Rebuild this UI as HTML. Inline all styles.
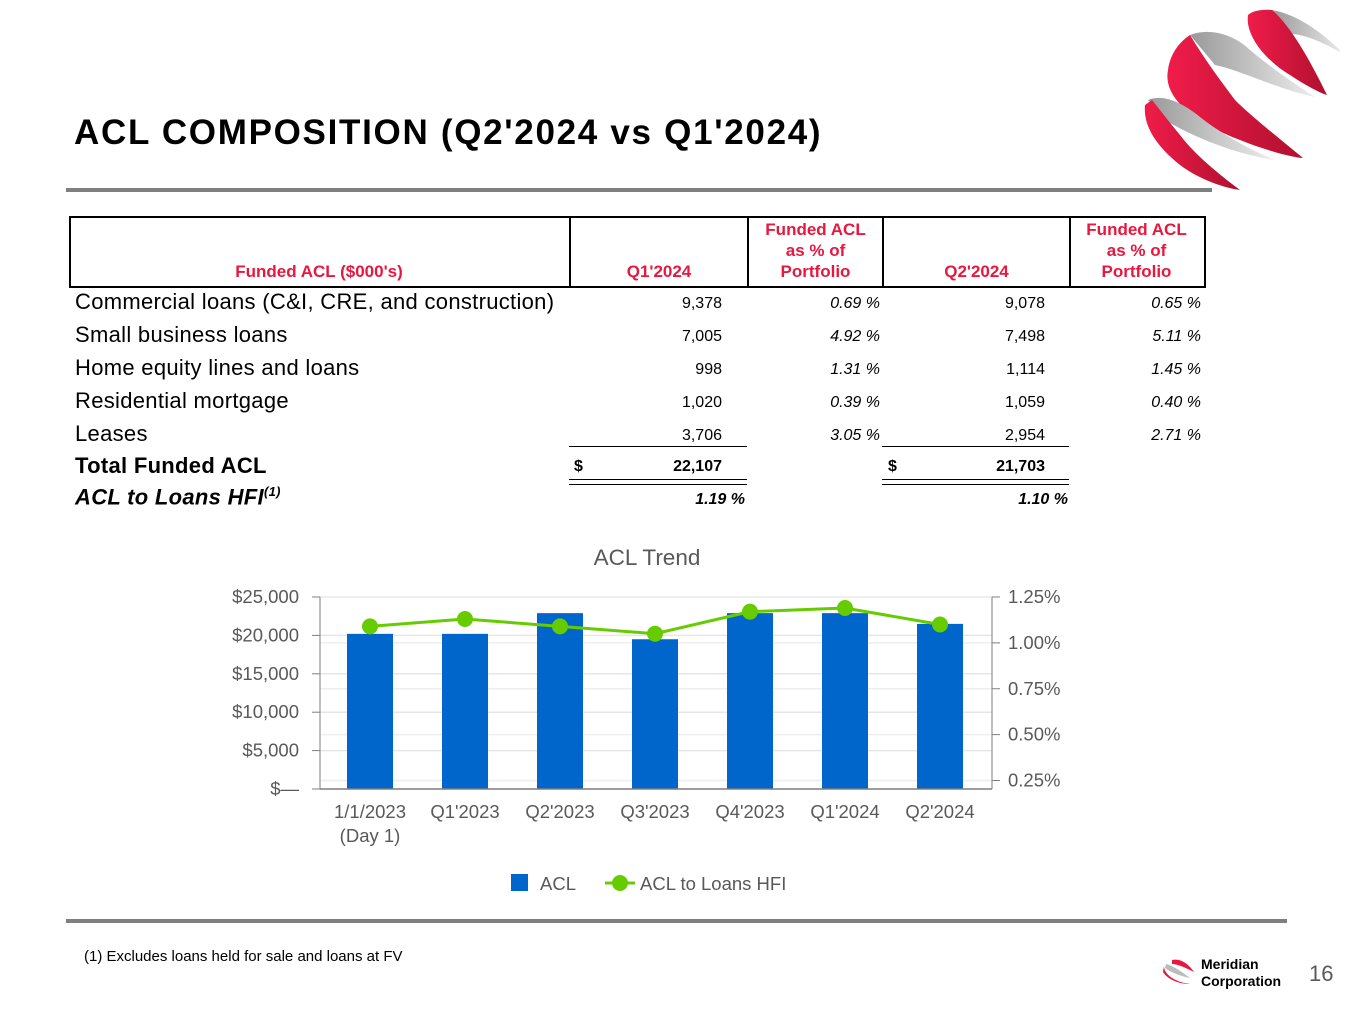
<!DOCTYPE html>
<html><head><meta charset="utf-8"><style>
body{margin:0;width:1365px;height:1024px;background:#fff;font-family:"Liberation Sans",Arial,sans-serif;position:relative;overflow:hidden}
.a{position:absolute;white-space:nowrap}
.h{color:#e8173f;font-weight:bold;font-size:17px;text-align:center;line-height:21px}
.lbl{font-size:22px;letter-spacing:0.3px;color:#000}
.n{font-size:16px;text-align:right}
.p{font-size:16px;text-align:right;font-style:italic}
</style></head><body>
<div class="a" style="left:74px;top:113px;font-size:35px;letter-spacing:1.7px;font-weight:bold">ACL COMPOSITION (Q2'2024 vs Q1'2024)</div>
<div class="a" style="left:66px;top:188px;width:1146px;height:4px;background:#7f7f7f"></div>
<svg class="a" style="left:1140px;top:5px" width="200" height="190" viewBox="0 0 200 190">
<defs><linearGradient id="gr" x1="0" x2="1"><stop offset="0" stop-color="#f01c4a"/><stop offset="1" stop-color="#b0102e"/></linearGradient>
<linearGradient id="gg" x1="0" x2="1"><stop offset="0" stop-color="#999"/><stop offset="1" stop-color="#eee"/></linearGradient></defs>
<path d="M132 5 C160 10,185 30,205 50 C180 35,155 25,140 30 Z" fill="url(#gg)"/>
<path d="M108 10 C105 30,125 55,150 70 C165 80,180 88,187 90 C170 55,150 20,132 5 C122 4,112 6,108 10 Z" fill="url(#gr)"/>
<path d="M50 30 C70 22,95 30,110 45 C140 70,165 85,175 92 C140 85,100 65,75 60 Z" fill="url(#gg)"/>
<path d="M28 65 C22 95,60 120,100 135 C125 145,150 152,163 153 C135 130,110 110,95 95 C80 75,65 55,50 30 C38 38,30 50,28 65 Z" fill="url(#gr)"/>
<path d="M8 95 C25 88,45 100,60 112 C80 128,110 145,135 155 C100 150,60 135,30 118 Z" fill="url(#gg)"/>
<path d="M5 100 C3 120,15 140,40 160 C60 175,85 183,100 185 C80 170,55 150,40 130 C30 118,20 105,12 95 Z" fill="url(#gr)"/>
</svg>
<div class="a" style="left:69px;top:216px;width:1133px;height:68px;border:2px solid #000"></div>
<div class="a" style="left:569px;top:216px;width:2px;height:70px;background:#000"></div>
<div class="a" style="left:747px;top:216px;width:2px;height:70px;background:#000"></div>
<div class="a" style="left:882px;top:216px;width:2px;height:70px;background:#000"></div>
<div class="a" style="left:1069px;top:216px;width:2px;height:70px;background:#000"></div>
<div class="a h" style="left:69px;top:261px;width:500px">Funded ACL ($000's)</div>
<div class="a h" style="left:571px;top:261px;width:176px">Q1'2024</div>
<div class="a h" style="left:749px;top:219px;width:133px">Funded ACL<br>as % of<br>Portfolio</div>
<div class="a h" style="left:884px;top:261px;width:185px">Q2'2024</div>
<div class="a h" style="left:1071px;top:219px;width:131px">Funded ACL<br>as % of<br>Portfolio</div>
<div id="rows"></div>
<div class="a" style="left:569px;top:446px;width:178px;height:1px;background:#000"></div>
<div class="a" style="left:882px;top:446px;width:187px;height:1px;background:#000"></div>
<div class="a" style="left:569px;top:479px;width:178px;height:4px;border-top:1px solid #000;border-bottom:1px solid #000"></div>
<div class="a" style="left:882px;top:479px;width:187px;height:4px;border-top:1px solid #000;border-bottom:1px solid #000"></div>
<div class="a lbl" style="left:75px;top:453px;font-weight:bold">Total Funded ACL</div>
<div class="a n" style="left:574px;top:458px;font-weight:bold">$</div>
<div class="a n" style="left:600px;top:458px;width:122px;font-weight:bold">22,107</div>
<div class="a n" style="left:888px;top:458px;font-weight:bold">$</div>
<div class="a n" style="left:920px;top:458px;width:125px;font-weight:bold">21,703</div>
<div class="a lbl" style="left:75px;top:484px;font-weight:bold;font-style:italic">ACL to Loans HFI<sup style="font-size:13px">(1)</sup></div>
<div class="a p" style="left:600px;top:491px;width:145px;font-weight:bold">1.19 %</div>
<div class="a p" style="left:920px;top:491px;width:148px;font-weight:bold">1.10 %</div>
<svg class="a" style="left:0;top:530px" width="1365" height="380" id="chart"></svg>
<div class="a" style="left:66px;top:919px;width:1221px;height:4px;background:#7f7f7f"></div>
<div class="a" style="left:84px;top:948px;font-size:15px">(1) Excludes loans held for sale and loans at FV</div>
<svg class="a" style="left:1160px;top:956px" width="36" height="32" viewBox="0 0 36 32"><path d="M12 4 C22 2,30 10,34 16 C26 12,18 8,12 8Z" fill="#e8173f"/><path d="M4 10 C4 18,14 26,30 28 C20 28,8 24,3 16Z" fill="#e8173f"/><path d="M6 8 C14 10,22 16,30 22 C20 20,10 16,5 12Z" fill="#bbb"/></svg>
<div class="a" style="left:1201px;top:956px;font-size:14px;font-weight:bold;line-height:17px">Meridian<br>Corporation</div>
<div class="a" style="left:1309px;top:961px;font-size:22px;color:#595959">16</div>
<script>
const rowLabels=["Commercial loans (C&I, CRE, and construction)","Small business loans","Home equity lines and loans","Residential mortgage","Leases"];
const q1Vals=["9,378","7,005","998","1,020","3,706"];
const q1Pct=["0.69 %","4.92 %","1.31 %","0.39 %","3.05 %"];
const q2Vals=["9,078","7,498","1,114","1,059","2,954"];
const q2Pct=["0.65 %","5.11 %","1.45 %","0.40 %","2.71 %"];
const R=document.getElementById('rows');
rowLabels.forEach((l,i)=>{const y=289+i*33;
 const add=(cls,txt,st,name)=>{const d=document.createElement('div');d.className='a '+cls;d.textContent=txt;d.style.cssText=st;
 
 
 R.appendChild(d);};
 add('lbl',l,`left:75px;top:${y}px`,'row-label');
 add('n',q1Vals[i],`left:600px;top:${y+6}px;width:122px`,'row-q1');
 add('p',q1Pct[i],`left:749px;top:${y+6}px;width:131px`,'row-q1-pct');
 add('n',q2Vals[i],`left:920px;top:${y+6}px;width:125px`,'row-q2');
 add('p',q2Pct[i],`left:1071px;top:${y+6}px;width:130px`,'row-q2-pct');
});
const cats=[["1/1/2023","(Day 1)"],["Q1'2023"],["Q2'2023"],["Q3'2023"],["Q4'2023"],["Q1'2024"],["Q2'2024"]];
const aclVals=[20200,20200,22900,19500,22900,22900,21500];
const ratioVals=[1.09,1.13,1.09,1.05,1.17,1.19,1.10];
const leftTicks=[0,5000,10000,15000,20000,25000];
const leftTickLabels=["$—","$5,000","$10,000","$15,000","$20,000","$25,000"];
const rightTicks=[0.25,0.5,0.75,1.0,1.25];
const rightTickLabels=["0.25%","0.50%","0.75%","1.00%","1.25%"];
const S=document.getElementById('chart'),NS='http://www.w3.org/2000/svg',OY=530;
const yL=v=>789-OY-v/25000*192, yR=v=>597-OY+(1.25-v)*183.5, xC=i=>370+i*95;
function el(t,a,txt){const e=document.createElementNS(NS,t);for(const k in a)e.setAttribute(k,a[k]);if(txt!=null)e.textContent=txt;S.appendChild(e);return e;}
let e=el('text',{x:647,y:35,'text-anchor':'middle','font-size':22.5,fill:'#595959'},'ACL Trend');


leftTicks.forEach((t,i)=>{const y=yL(t);
 if(t>0)el('line',{x1:320,x2:992,y1:y,y2:y,stroke:'#e6e6e6','stroke-width':1.5});
 el('line',{x1:312,x2:320,y1:y,y2:y,stroke:'#7f7f7f'});
 const tx=el('text',{x:299,y:y+6,'text-anchor':'end','font-size':18.5,fill:'#595959'},leftTickLabels[i]);
 
 
});
rightTicks.forEach((t,i)=>{const y=yR(t);
 el('line',{x1:320,x2:992,y1:y,y2:y,stroke:'#eeeeee','stroke-width':1.5});
 el('line',{x1:992,x2:1000,y1:y,y2:y,stroke:'#7f7f7f'});
 const tx=el('text',{x:1008,y:y+6,'font-size':18.5,fill:'#595959'},rightTickLabels[i]);
 
 
});
el('line',{x1:320,x2:320,y1:yL(25000),y2:yL(0),stroke:'#7f7f7f'});
el('line',{x1:992,x2:992,y1:yL(25000),y2:yL(0),stroke:'#7f7f7f'});
aclVals.forEach((v,i)=>{const r=el('rect',{x:xC(i)-23,y:yL(v),width:46,height:yL(0)-yL(v),fill:'#0066cc'});
 
 
});
el('line',{x1:320,x2:992,y1:yL(0),y2:yL(0),stroke:'#7f7f7f','stroke-width':1.5});
el('polyline',{points:ratioVals.map((v,i)=>xC(i)+','+yR(v)).join(' '),fill:'none',stroke:'#66cc00','stroke-width':3});
ratioVals.forEach((v,i)=>{const c=el('circle',{cx:xC(i),cy:yR(v),r:8,fill:'#66cc00'});
 
 
});
cats.forEach((c,i)=>c.forEach((s,j)=>{const t=el('text',{x:xC(i),y:288+j*24,'text-anchor':'middle','font-size':18.5,fill:'#595959'},s);
 
 
}));
const lg=el('rect',{x:511,y:344,width:17,height:17,fill:'#0066cc'});


el('text',{x:540,y:360,'font-size':18.5,fill:'#595959'},'ACL');
el('line',{x1:605,x2:635,y1:353,y2:353,stroke:'#66cc00','stroke-width':3});
const lc=el('circle',{cx:620,cy:353,r:8,fill:'#66cc00'});


el('text',{x:640,y:360,'font-size':18.5,fill:'#595959'},'ACL to Loans HFI');
</script>
</body></html>
